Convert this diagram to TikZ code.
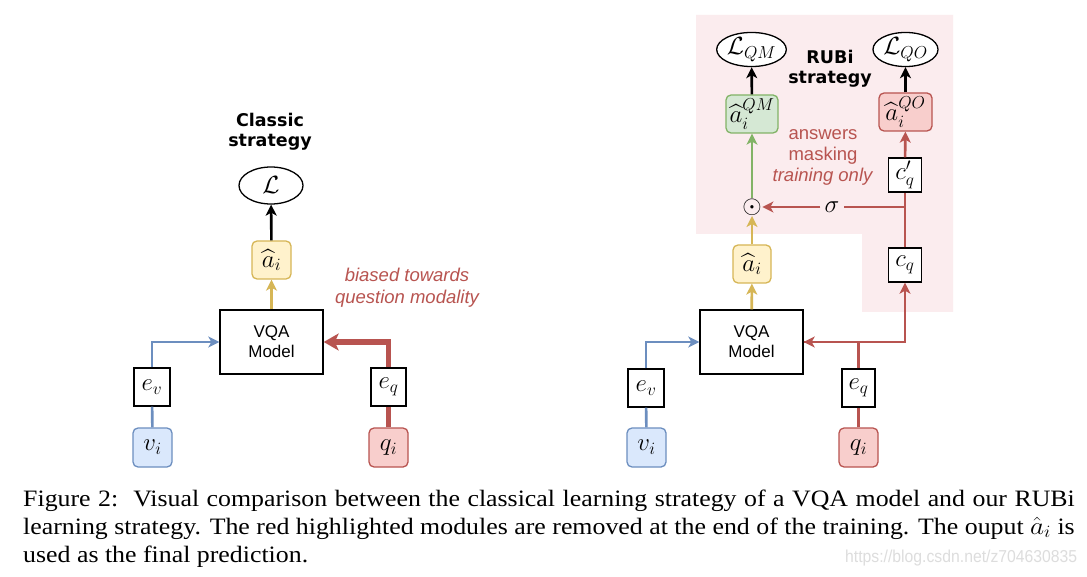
\documentclass[tikz,border=0pt]{standalone}
\usepackage{amsmath}
\usepackage{fontspec}
\setmainfont{Liberation Serif}
\setsansfont{Liberation Sans}
\newfontfamily\titlefont{DejaVu Sans}
\usetikzlibrary{arrows.meta,shapes.geometric}
\definecolor{blueline}{HTML}{6C8EBF}
\definecolor{bluefill}{HTML}{DAE8FC}
\definecolor{yelline}{HTML}{D6B656}
\definecolor{yelfill}{HTML}{FFF2CC}
\definecolor{redline}{HTML}{B85450}
\definecolor{redfill}{HTML}{F8CECC}
\definecolor{grnline}{HTML}{82B366}
\definecolor{grnfill}{HTML}{D5E8D4}
\definecolor{pinkbg}{HTML}{FBECEE}
\definecolor{wmark}{HTML}{DDDDDD}
\tikzset{
  plain/.style={draw=black, line width=1.4pt, fill=white, inner sep=0pt, align=center},
  mathbox/.style={plain, font=\fontsize{26}{30}\selectfont},
  rbox/.style={draw, line width=1.3pt, rounded corners=5pt, inner sep=0pt, font=\fontsize{26}{30}\selectfont},
  lossell/.style={draw=black, line width=1.3pt, fill=white, ellipse, inner sep=0pt},
  vqabox/.style={plain, font=\sffamily\fontsize{17}{20}\selectfont},
  title/.style={font=\titlefont\bfseries\fontsize{17.5}{20}\selectfont, align=center},
  note/.style={text=redline, font=\sffamily\fontsize{18.5}{21}\selectfont, align=center},
  arr/.style={-{Stealth[length=11pt,width=11pt,inset=3pt]}},
  bluel/.style={draw=blueline, line width=2.6pt},
  yell/.style={draw=yelline, line width=2.6pt},
  redl/.style={draw=redline, line width=2.6pt},
  grnl/.style={draw=grnline, line width=2.6pt},
  blkl/.style={draw=black, line width=2.6pt},
  captext/.style={anchor=base west, inner sep=0pt, font=\fontsize{23.5}{28}\selectfont},
}
\begin{document}
\begin{tikzpicture}[x=1pt,y=-1pt]
\useasboundingbox (0,0) rectangle (1087,577);
\fill[white] (0,0) rectangle (1087,577);
% pink background (RUBi part)
\fill[pinkbg] (696,15) -- (953,15) -- (953,312) -- (862,312) -- (862,234) -- (696,234) -- cycle;

% ================= LEFT: classic strategy =================
\node[title] (ctitle) at (270,132) {Classic\\strategy};
\node[lossell, minimum width=64, minimum height=37, font=\fontsize{27}{30}\selectfont] (LL) at (271,185.5) {$\mathcal{L}$};
\node[rbox, draw=yelline, fill=yelfill, minimum width=39, minimum height=38] (ahatL) at (271.5,260) {$\widehat{a}_i$};
\node[vqabox, minimum width=103, minimum height=64] (vqaL) at (271.5,342) {VQA\\Model};
\node[mathbox, minimum width=36, minimum height=38] (evL) at (152,387) {$e_v$};
\node[rbox, draw=blueline, fill=bluefill, minimum width=39, minimum height=39] (viL) at (152.5,447.5) {$v_i$};
\node[mathbox, minimum width=35, minimum height=38] (eqL) at (388.5,387) {$e_q$};
\node[rbox, draw=redline, fill=redfill, minimum width=39, minimum height=39] (qiL) at (388.5,447.5) {$q_i$};
\node[note, font=\sffamily\itshape\fontsize{18.5}{22}\selectfont] (bias) at (407,288) {biased towards\\question modality};

\draw[bluel] (viL) -- (evL);
\draw[bluel, arr] (evL.north) |- (vqaL.west);
\draw[draw=redline, line width=5.5pt] (qiL) -- (eqL);
\draw[draw=redline, line width=5.5pt, -{Stealth[length=15pt,width=17pt,inset=4pt]}] (eqL.north) |- (vqaL.east);
\draw[yell, arr] (vqaL) -- (ahatL);
\draw[blkl, arr] (ahatL) -- (LL);

% ================= RIGHT: RUBi strategy =================
\node[title] (rtitle) at (830,69) {RUBi\\strategy};
\node[lossell, minimum width=65, minimum height=33, font=\fontsize{24}{28}\selectfont] (LQM) at (751.5,49.5) {$\mathcal{L}_{QM}$};
\node[lossell, minimum width=65, minimum height=33, font=\fontsize{24}{28}\selectfont] (LQO) at (905.5,49.5) {$\mathcal{L}_{QO}$};
\node[rbox, draw=grnline, fill=grnfill, minimum width=52, minimum height=38, font=\fontsize{24}{28}\selectfont] (aQM) at (752,114) {$\widehat{a}_i^{QM}$};
\node[rbox, draw=redline, fill=redfill, minimum width=53, minimum height=38, font=\fontsize{24}{28}\selectfont] (aQO) at (905.5,112) {$\widehat{a}_i^{QO}$};
\node[note] (mask) at (823,157) {answers\\masking\\\textit{training only}};
\node[mathbox, minimum width=33, minimum height=34] (cpR) at (905,175) {$c'_q$};
\node[mathbox, minimum width=33, minimum height=34] (cqR) at (905,265) {$c_q$};
\node[inner sep=0.5pt, font=\fontsize{25}{28}\selectfont] (odot) at (752,207) {$\odot$};
\node[inner sep=4pt, font=\fontsize{29}{30}\selectfont] (sigma) at (832,207) {$\sigma$};
\node[rbox, draw=yelline, fill=yelfill, minimum width=38, minimum height=38] (ahatR) at (752,264) {$\widehat{a}_i$};
\node[vqabox, minimum width=103, minimum height=64] (vqaR) at (751.5,342) {VQA\\Model};
\node[mathbox, minimum width=36, minimum height=38] (evR) at (646,388) {$e_v$};
\node[rbox, draw=blueline, fill=bluefill, minimum width=39, minimum height=39] (viR) at (646.5,447.5) {$v_i$};
\node[mathbox, minimum width=33, minimum height=38] (eqR) at (858.5,388) {$e_q$};
\node[rbox, draw=redline, fill=redfill, minimum width=39, minimum height=39] (qiR) at (858.5,447.5) {$q_i$};
\coordinate (J) at (cqR.north |- odot);

\draw[bluel] (viR) -- (evR);
\draw[bluel, arr] (evR.north) |- (vqaR.west);
\draw[redl] (qiR) -- (eqR);
\draw[redl, arr] (eqR.north) |- (vqaR.east);
\draw[redl, arr] (vqaR.east) -| (cqR.south);
\draw[redl] (cqR) -- (cpR);
\draw[redl, arr] (cpR) -- (aQO);
\draw[redl] (J) -- (sigma);
\draw[redl, arr] (sigma) -- (odot);
\draw[yell, arr] (vqaR) -- (ahatR);
\draw[yell, arr] (ahatR) -- (odot);
\draw[grnl, arr] (odot) -- (aQM);
\draw[blkl, arr] (aQM) -- (LQM);
\draw[blkl, arr] (aQO) -- (LQO);

% ================= caption =================
\node[captext] (cap1) at (23,506)
  {\scalebox{1.1}[1]{\makebox[956pt][s]{Figure 2:\ \ Visual comparison between the classical learning strategy of a VQA model and our RUBi}}};
\node[captext] (cap2) at (23,534)
  {\scalebox{1.1}[1]{\makebox[956pt][s]{learning strategy. The red highlighted modules are removed at the end of the training. The ouput $\hat{a}_i$ is}}};
\node[captext] (cap3) at (23,562)
  {\scalebox{1.1}[1]{used as the final prediction.}};
\node[anchor=base west, inner sep=0pt, text=wmark] (wm) at (845,562)
  {\resizebox{232pt}{12.5pt}{\sffamily https://blog.csdn.net/z704630835}};
\end{tikzpicture}
\end{document}
